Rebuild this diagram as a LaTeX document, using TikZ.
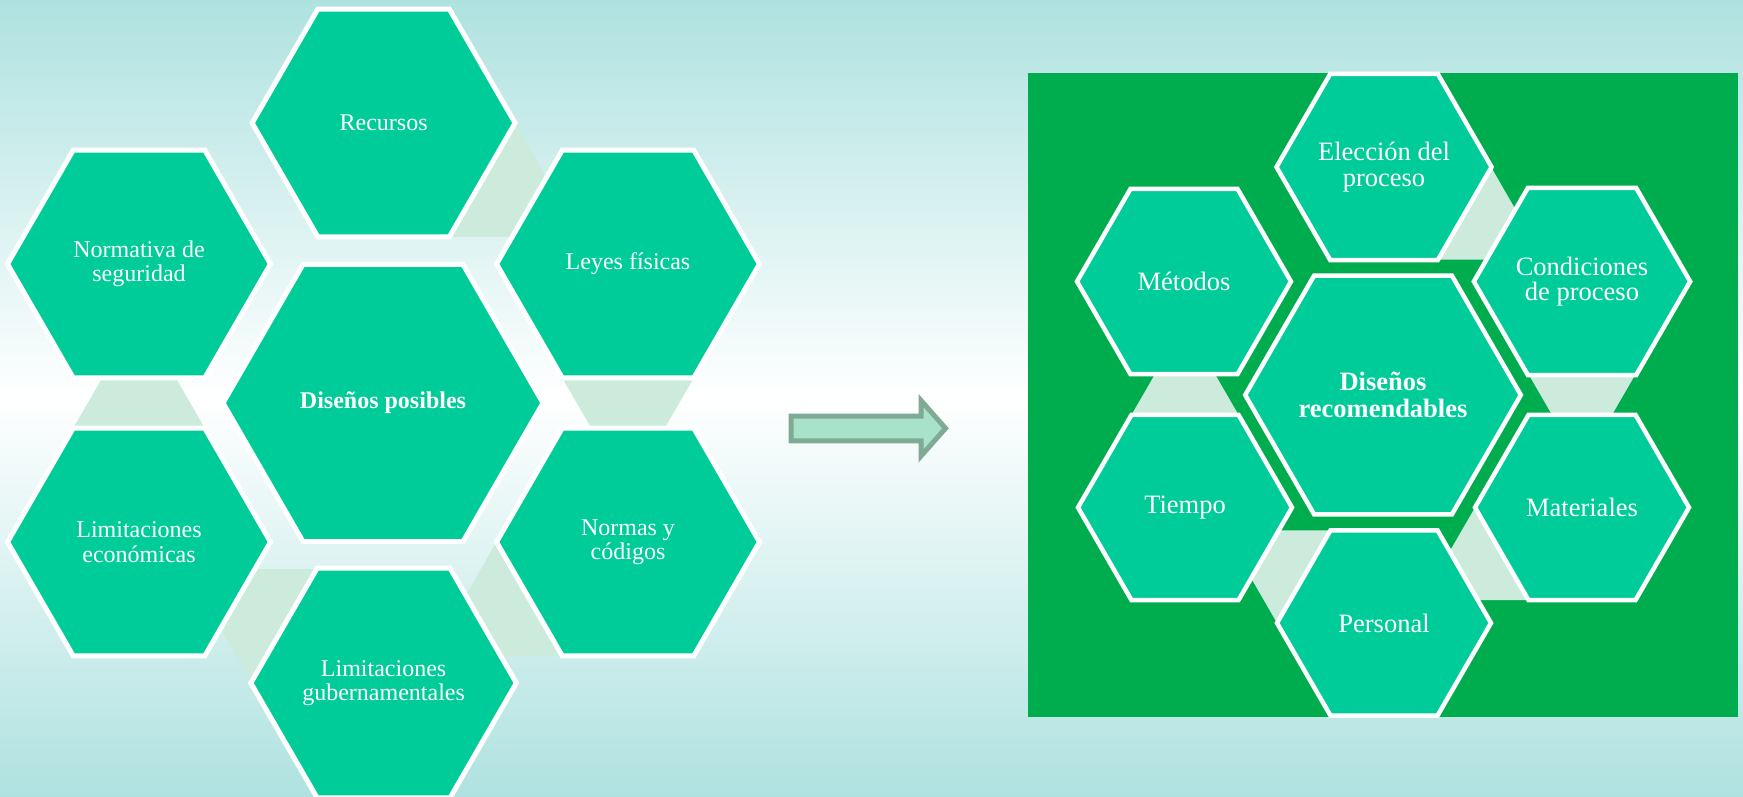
\documentclass[tikz,border=0pt]{standalone}
\usepackage{fontspec}
\setmainfont{Liberation Serif}
\usetikzlibrary{shapes.geometric,calc}

\definecolor{hexfill}{HTML}{00CC99}
\definecolor{linkfill}{HTML}{CCEBDC}
\definecolor{panel}{HTML}{00AD4E}
\definecolor{skytop}{HTML}{AEE2E0}
\definecolor{arrowfill}{HTML}{A8E2CA}
\definecolor{arrowline}{HTML}{7FAA95}

\pgfdeclarelayer{backdrop}
\pgfdeclarelayer{links}
\pgfsetlayers{backdrop,links,main}

\tikzset{
  hexcell/.style={regular polygon, regular polygon sides=6, fill=hexfill,
    draw=white, inner sep=0pt, outer sep=0pt, text=white, align=center},
  hexsmall/.style={hexcell, minimum size=263pt, line width=5pt,
    font=\fontsize{24}{24.5}\selectfont},
  hexhub/.style={hexcell, minimum size=320pt, line width=5pt,
    font=\bfseries\fontsize{24}{24.5}\selectfont},
  hexright/.style={hexcell, minimum size=214pt, line width=4.5pt,
    font=\fontsize{26.5}{25.5}\selectfont},
  hexrighthub/.style={hexcell, minimum size=262pt, line width=4.5pt,
    font=\bfseries\fontsize{26.5}{26.5}\selectfont},
  linkpiece/.style={fill=linkfill},
}

% triangle standing on the hexagon edge between corners #3 and #3-60
\newcommand\hexlink[3]{%
  \fill[linkpiece] ($(#1)+(#3:#2)$) -- ($(#1)+(#3-60:#2)$)
    -- ($(#1)+(#3-30:1.7320508*#2)$) -- cycle;}

\begin{document}
\begin{tikzpicture}[x=1pt,y=1pt]
\useasboundingbox (0,0) rectangle (1743,-797);

\begin{pgfonlayer}{backdrop}
  \fill[top color=skytop, bottom color=skytop, middle color=white]
    (0,0) rectangle (1743,-797);
  \fill[panel] (1028.4,-73.5) rectangle (1738,-717);
\end{pgfonlayer}

% left cluster
\node[hexsmall] (rec) at (383.6,-123) {Recursos};
\node[hexsmall] (nor) at (139,-264) {Normativa de\\seguridad};
\node[hexsmall] (ley) at (628,-264) {Leyes físicas};
\node[hexhub]   (dis) at (383,-403) {Diseños posibles};
\node[hexsmall] (eco) at (139,-542) {Limitaciones\\económicas};
\node[hexsmall] (nyc) at (628,-542) {Normas y\\códigos};
\node[hexsmall] (gub) at (383.6,-683) {Limitaciones\\gubernamentales};

\begin{pgfonlayer}{links}
  \hexlink{rec}{131.5}{0}
  \hexlink{ley}{131.5}{-60}
  \hexlink{nyc}{131.5}{240}
  \hexlink{gub}{131.5}{180}
  \hexlink{eco}{131.5}{120}
\end{pgfonlayer}

% block arrow
\draw[line width=5pt, draw=arrowline, fill=arrowfill, line join=miter]
  (791,-416) -- (921,-416) -- (921,-400.5) -- (945.5,-428.3)
  -- (921,-456) -- (921,-440.8) -- (791,-440.8) -- cycle;

% right cluster
\node[hexright]    (ele) at (1384,-167) {Elección del\\proceso};
\node[hexright]    (met) at (1184,-281.5) {Métodos};
\node[hexright]    (con) at (1582,-281.5) {Condiciones\\de proceso};
\node[hexrighthub] (dre) at (1383,-395) {Diseños\\recomendables};
\node[hexright]    (tie) at (1185,-507.5) {Tiempo};
\node[hexright]    (mat) at (1582,-507.5) {Materiales};
\node[hexright]    (per) at (1384,-623) {Personal};

\begin{pgfonlayer}{links}
  \hexlink{ele}{107}{0}
  \hexlink{con}{107}{-60}
  \hexlink{mat}{107}{240}
  \hexlink{per}{107}{180}
  \hexlink{tie}{107}{120}
\end{pgfonlayer}
\end{tikzpicture}
\end{document}
